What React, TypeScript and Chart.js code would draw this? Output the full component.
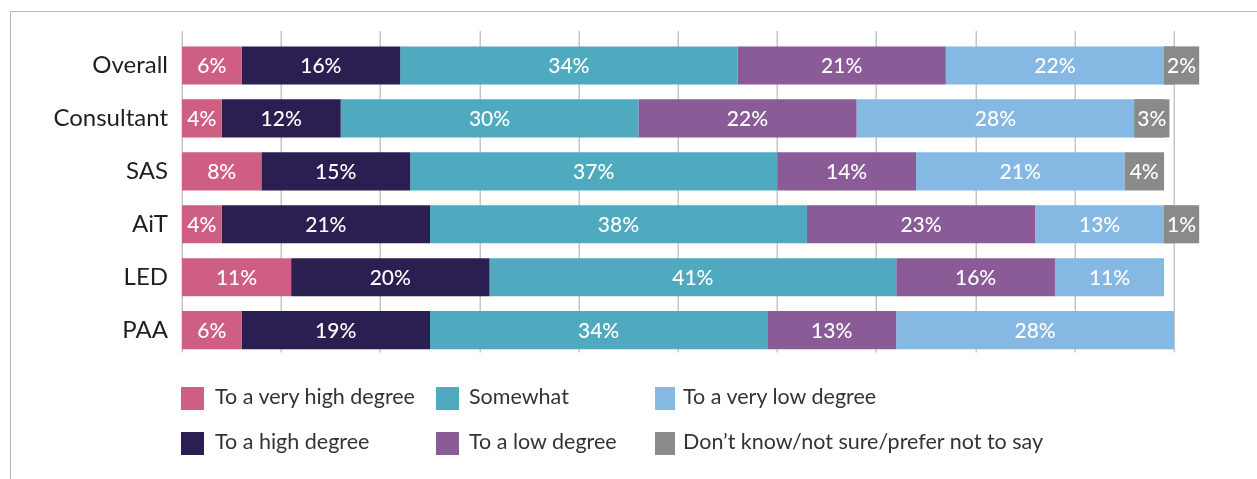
import React, { useEffect, useRef } from "react";
import { Chart, registerables } from "chart.js";

Chart.register(...registerables);

const categories = ["Overall", "Consultant", "SAS", "AiT", "LED", "PAA"];
const seriesNames = [
  "To a very high degree",
  "To a high degree",
  "Somewhat",
  "To a low degree",
  "To a very low degree",
  "Don\u2019t know/not sure/prefer not to say",
];
const veryHigh = [6, 4, 8, 4, 11, 6];
const high = [16, 12, 15, 21, 20, 19];
const somewhat = [34, 30, 37, 38, 41, 34];
const low = [21, 22, 14, 23, 16, 13];
const veryLow = [22, 28, 21, 13, 11, 28];
const dontKnow = [2, 3, 4, 1, 0, 0];
const seriesValues = [veryHigh, high, somewhat, low, veryLow, dontKnow];
const seriesColors = ["#CE5F83", "#2B1F51", "#50AABF", "#8A5B97", "#85B8E3", "#8A8B89"];
const gridTicks = [0, 10, 20, 30, 40, 50, 60, 70, 80, 90, 100];

const FONT = "Lato, 'Noto Sans', sans-serif";

const gridPlugin = {
  id: "customGrid",
  beforeDatasetsDraw(chart: any) {
    const { ctx, chartArea } = chart;
    const xs = chart.scales.x;
    ctx.save();
    ctx.strokeStyle = "#c6c6c6";
    ctx.lineWidth = 1.5;
    gridTicks.forEach((t) => {
      const px = Math.round(xs.getPixelForValue(t)) + 0.25;
      ctx.beginPath();
      ctx.moveTo(px, chartArea.top - 8);
      ctx.lineTo(px, chartArea.bottom - 4);
      ctx.stroke();
    });
    ctx.restore();
  },
};

const labelPlugin = {
  id: "segLabels",
  afterDatasetsDraw(chart: any) {
    const { ctx } = chart;
    ctx.save();
    ctx.font = `500 21px ${FONT}`;
    ctx.textAlign = "center";
    ctx.textBaseline = "middle";
    chart.data.datasets.forEach((ds: any, i: number) => {
      const meta = chart.getDatasetMeta(i);
      meta.data.forEach((bar: any, j: number) => {
        const v = ds.data[j];
        if (!v) return;
        const p = bar.getProps(["x", "y", "base", "height"], true);
        const left = Math.min(p.base, p.x);
        const right = Math.max(p.base, p.x);
        const w = right - left;
        const text = `${v}%`;
        const tw = ctx.measureText(text).width;
        let cx = (left + right) / 2;
        if (tw + 6 > w) {
          const bw = tw + 6;
          ctx.fillStyle = ds.backgroundColor;
          ctx.fillRect(left, p.y - p.height / 2, bw, p.height);
          cx = left + bw / 2;
        }
        ctx.fillStyle = "#ffffff";
        ctx.fillText(text, cx, p.y + 1);
      });
    });
    ctx.restore();
  },
};

const legendCols = [
  { x: 173, textX: 207, items: [0, 1] },
  { x: 428, textX: 461, items: [2, 3] },
  { x: 647, textX: 675, items: [4, 5] },
];
const legendRows = [379, 424];

export default function App() {
  const ref = useRef<HTMLCanvasElement | null>(null);

  useEffect(() => {
    if (!ref.current) return;
    const chart = new Chart(ref.current, {
      type: "bar",
      data: {
        labels: categories,
        datasets: seriesValues.map((vals, i) => ({
          label: seriesNames[i],
          data: vals,
          backgroundColor: seriesColors[i],
          borderWidth: 0,
          barPercentage: 0.72,
          categoryPercentage: 1,
        })),
      },
      options: {
        indexAxis: "y",
        animation: false,
        responsive: false,
        maintainAspectRatio: false,
        layout: { padding: { top: 31, bottom: 0, right: 75, left: 0 } },
        plugins: {
          legend: { display: false },
          tooltip: { enabled: false },
        },
        scales: {
          x: {
            stacked: true,
            min: 0,
            max: 100,
            display: false,
          },
          y: {
            stacked: true,
            grid: { display: false, drawTicks: false },
            border: { display: false },
            ticks: {
              color: "#231f20",
              padding: 14,
              font: { family: FONT, size: 24 },
            },
            afterFit: (s: any) => {
              s.width = 174;
            },
          },
        },
      },
      plugins: [gridPlugin, labelPlugin],
    } as any);
    return () => chart.destroy();
  }, []);

  return (
    <div style={{ position: "relative", width: 1241, height: 463 }}>
      <div
        style={{
          position: "fixed",
          left: 10,
          top: 11,
          right: -10,
          bottom: -10,
          borderTop: "1.5px solid #b8b8b8",
          borderLeft: "1.5px solid #b8b8b8",
          pointerEvents: "none",
        }}
      />
      <canvas ref={ref} width={1241} height={377} style={{ position: "absolute", left: 0, top: 0 }} />
      {legendCols.map((col, ci) =>
        col.items.map((si, ri) => (
          <React.Fragment key={`${ci}-${ri}`}>
            <div
              style={{
                position: "absolute",
                left: col.x,
                top: legendRows[ri],
                width: ci === 2 ? 20 : 23,
                height: 23,
                background: seriesColors[si],
              }}
            />
            <div
              style={{
                position: "absolute",
                left: col.textX,
                top: legendRows[ri] - 2,
                height: 23,
                lineHeight: "23px",
                fontFamily: FONT,
                fontSize: 21.5,
                color: "#333333",
                whiteSpace: "nowrap",
              }}
            >
              {seriesNames[si]}
            </div>
          </React.Fragment>
        ))
      )}
    </div>
  );
}
